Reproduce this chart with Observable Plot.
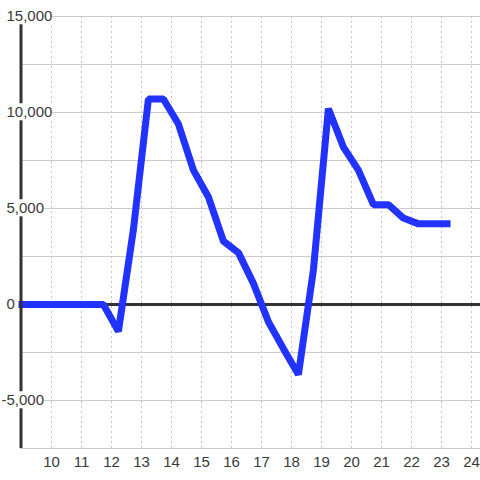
<!DOCTYPE html>
<html>
<head>
<meta charset="utf-8">
<script src="https://cdn.jsdelivr.net/npm/d3@7"></script>
<script src="https://cdn.jsdelivr.net/npm/@observablehq/plot@0.6"></script>
<style>
  html, body { margin: 0; padding: 0; background: #ffffff; }
  #chart { width: 480px; height: 480px; }
</style>
</head>
<body>
<div id="chart"></div>
<script>
// ---- data ----
const xValues = [8.9, 9.23, 9.73, 10.23, 10.73, 11.23, 11.73,
  12.23, 12.73, 13.23, 13.73, 14.23, 14.73, 15.23, 15.73, 16.23, 16.73,
  17.23, 17.73, 18.23, 18.73, 19.23, 19.73, 20.23, 20.73, 21.23, 21.73,
  22.23, 22.73, 23.3];
const yValues = [0, 0, 0, 0, 0, 0, 0,
  -1400, 3900, 10700, 10700, 9400, 7000, 5600, 3300, 2700, 1100,
  -900, -2300, -3650, 1800, 10200, 8200, 7000, 5200, 5200, 4500,
  4200, 4200, 4200];
const xTicks = [10, 11, 12, 13, 14, 15, 16, 17, 18, 19, 20, 21, 22, 23, 24];
const yGrid = [-7500, -5000, -2500, 0, 2500, 5000, 7500, 10000, 12500, 15000];
const yLabels = [-5000, 0, 5000, 10000, 15000];

const data = xValues.map((x, i) => ({x, y: yValues[i]}));
const xMin = 8.9667, xMax = 24.3;
const yMin = -7500, yMax = 15000;
const font = "'Liberation Sans', Arial, sans-serif";
const fmt = d => d.toLocaleString("en-US");

const chart = Plot.plot({
  width: 480,
  height: 480,
  marginLeft: 20,
  marginRight: 0,
  marginTop: 16,
  marginBottom: 32,
  style: {background: "#ffffff", fontFamily: font},
  x: {type: "linear", domain: [xMin, xMax], axis: null},
  y: {type: "linear", domain: [yMin, yMax], axis: null},
  marks: [
    Plot.ruleY(yGrid, {x1: xMin, x2: xMax, stroke: "#cccccc", strokeWidth: 1}),
    Plot.ruleX(xTicks, {y1: yMin, y2: yMax, stroke: "#c4c4c4", strokeWidth: 1, strokeDasharray: "2,3"}),
    Plot.ruleY([0], {x1: xMin, x2: xMax, stroke: "#333333", strokeWidth: 3}),
    Plot.line(data, {x: "x", y: "y", stroke: "#2233ff", strokeWidth: 7, strokeLinejoin: "miter", strokeLinecap: "butt"}),
    Plot.ruleX([xMin], {y1: yMin, y2: yMax, stroke: "#333333", strokeWidth: 3, dx: 0.5}),
    Plot.text(yLabels, {filter: d => d >= 0, x: xMin, y: d => d, text: fmt, textAnchor: "start", dx: -14,
      fontSize: 15, fill: "#3a3a3a", fontFamily: font, className: "ylab"}),
    Plot.text(yLabels, {filter: d => d < 0, x: xMin, y: d => d, text: fmt, textAnchor: "start", dx: -19,
      fontSize: 15, fill: "#3a3a3a", fontFamily: font, className: "ylab"}),
    Plot.text(xTicks, {x: d => d, y: yMin, dy: 14, text: d => String(d), textAnchor: "middle",
      fontSize: 15, fill: "#3a3a3a", fontFamily: font})
  ]
});
document.getElementById("chart").appendChild(chart);

// white boxes behind the y labels (they hide axis & grid beneath)
chart.querySelectorAll(".ylab").forEach(g => {
  g.querySelectorAll("text").forEach(t => {
    const b = t.getBBox();
    const r = document.createElementNS("http://www.w3.org/2000/svg", "rect");
    r.setAttribute("x", b.x);
    r.setAttribute("y", b.y);
    r.setAttribute("width", b.width);
    r.setAttribute("height", b.height);
    r.setAttribute("fill", "#ffffff");
    const tr = t.getAttribute("transform");
    if (tr) r.setAttribute("transform", tr);
    t.parentNode.insertBefore(r, t);
  });
});
</script>
</body>
</html>
